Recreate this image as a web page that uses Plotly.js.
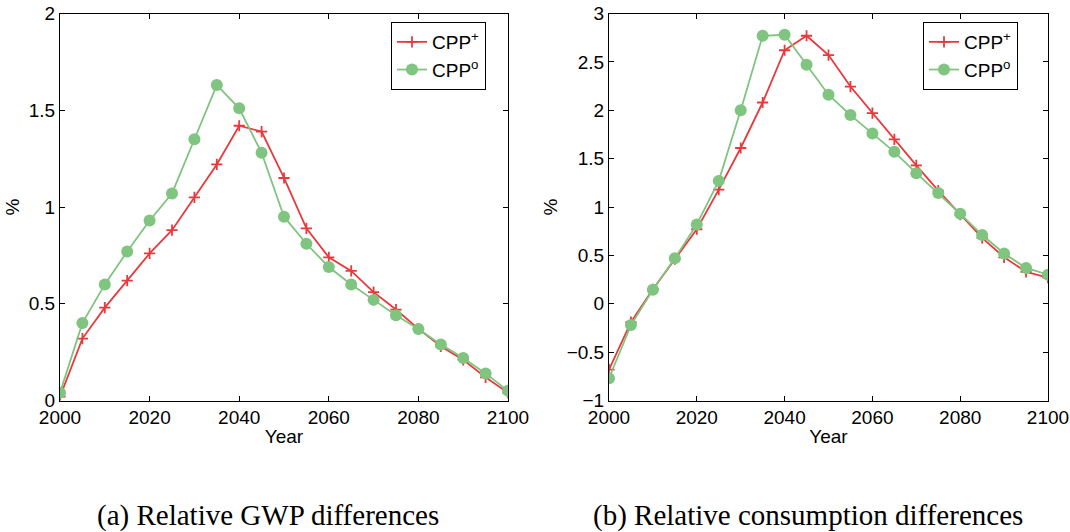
<!DOCTYPE html>
<html>
<head>
<meta charset="utf-8">
<script src="https://cdn.plot.ly/plotly-3.0.1.min.js"></script>
<style>
  html, body { margin: 0; padding: 0; background: #fff; }
  #chart { width: 1070px; height: 532px; }
</style>
</head>
<body>
<div id="chart"></div>
<script>
// Simulation years (5-year steps)
const years = [2000, 2005, 2010, 2015, 2020, 2025, 2030, 2035, 2040, 2045, 2050,
               2055, 2060, 2065, 2070, 2075, 2080, 2085, 2090, 2095, 2100];

// (a) Relative GWP differences, %
const gwpPlus = [0.02, 0.32, 0.48, 0.62, 0.76, 0.88, 1.05, 1.22, 1.42, 1.39, 1.15,
                 0.89, 0.74, 0.67, 0.56, 0.47, 0.37, 0.28, 0.21, 0.12, 0.04];
const gwpZero = [0.04, 0.40, 0.60, 0.77, 0.93, 1.07, 1.35, 1.63, 1.51, 1.28, 0.95,
                 0.81, 0.69, 0.60, 0.52, 0.44, 0.37, 0.29, 0.22, 0.14, 0.05];

// (b) Relative consumption differences, %
const consPlus = [-0.68, -0.19, 0.15, 0.46, 0.77, 1.18, 1.61, 2.08, 2.62, 2.77, 2.57,
                  2.245, 1.97, 1.70, 1.43, 1.17, 0.92, 0.68, 0.48, 0.33, 0.27];
const consZero = [-0.77, -0.22, 0.145, 0.47, 0.82, 1.27, 2.00, 2.77, 2.78, 2.47, 2.16,
                  1.95, 1.76, 1.57, 1.35, 1.145, 0.93, 0.71, 0.52, 0.37, 0.30];

const seriesNames = ['CPP<sup>+</sup>', 'CPP<sup>o</sup>'];
const captions = ['(a) Relative GWP differences', '(b) Relative consumption differences'];

const RED = '#e8393c';
const GREEN = '#7fc47f';
const SANS = 'Liberation Sans, Arial, sans-serif';
const SERIF = 'Liberation Serif, Times New Roman, serif';

function plusTrace(y, xa, ya, leg) {
  return {
    x: years, y: y, xaxis: xa, yaxis: ya, legend: leg,
    name: seriesNames[0], mode: 'lines+markers', type: 'scatter',
    line: { color: RED, width: 1.8 },
    marker: { symbol: 'cross-thin', size: 8, color: RED, line: { color: RED, width: 1.8 } }
  };
}
function zeroTrace(y, xa, ya, leg) {
  return {
    x: years, y: y, xaxis: xa, yaxis: ya, legend: leg,
    name: seriesNames[1], mode: 'lines+markers', type: 'scatter',
    line: { color: GREEN, width: 1.8 },
    marker: { symbol: 'circle', size: 12, color: GREEN }
  };
}

const data = [
  plusTrace(gwpPlus, 'x', 'y', 'legend'),
  zeroTrace(gwpZero, 'x', 'y', 'legend'),
  plusTrace(consPlus, 'x2', 'y2', 'legend2'),
  zeroTrace(consZero, 'x2', 'y2', 'legend2')
];

const W = 1070, H = 532;
const yDom = [(H - 400.5) / H, (H - 13.5) / H];

function xAxis(dom, anchor) {
  return {
    domain: dom, anchor: anchor, range: [2000, 2100],
    tickvals: [2000, 2020, 2040, 2060, 2080, 2100],
    ticks: 'inside', ticklen: 5, tickcolor: '#000', tickwidth: 1,
    showline: true, linecolor: '#000', linewidth: 1, mirror: 'ticks',
    showgrid: false, zeroline: false,
    tickfont: { family: SANS, size: 19, color: '#000' },
    title: { text: 'Year', font: { family: SANS, size: 19, color: '#000' }, standoff: 2 }
  };
}
function yAxis(dom, anchor, range, dtick) {
  return {
    domain: dom, anchor: anchor, range: range, dtick: dtick, tick0: 0,
    ticks: 'inside', ticklen: 5, tickcolor: '#000', tickwidth: 1,
    showline: true, linecolor: '#000', linewidth: 1, mirror: 'ticks',
    showgrid: false, zeroline: false,
    tickfont: { family: SANS, size: 19, color: '#000' },
    title: { text: '%', font: { family: SANS, size: 19, color: '#000' }, standoff: 4 }
  };
}

function legendAt(xRight) {
  return {
    x: xRight / W, xanchor: 'right', y: 1 - 22 / H, yanchor: 'top',
    bgcolor: '#fff', bordercolor: '#000', borderwidth: 1,
    font: { family: SANS, size: 19, color: '#000' },
    itemwidth: 30, tracegroupgap: 0
  };
}

const layout = {
  width: W, height: H,
  margin: { l: 0, r: 0, t: 0, b: 0 },
  paper_bgcolor: '#fff', plot_bgcolor: '#fff',
  showlegend: true,
  xaxis: xAxis([60 / W, 508 / W], 'y'),
  yaxis: yAxis(yDom, 'x', [0, 2], 0.5),
  xaxis2: xAxis([609 / W, 1048 / W], 'y2'),
  yaxis2: yAxis(yDom, 'x2', [-1, 3], 0.5),
  legend: legendAt(486),
  legend2: legendAt(1018),
  annotations: [
    { text: captions[0], x: 268 / W, y: 1 - 515 / H, xref: 'paper', yref: 'paper',
      xanchor: 'center', yanchor: 'middle', showarrow: false,
      font: { family: SERIF, size: 29, color: '#000' } },
    { text: captions[1], x: 808 / W, y: 1 - 515 / H, xref: 'paper', yref: 'paper',
      xanchor: 'center', yanchor: 'middle', showarrow: false,
      font: { family: SERIF, size: 29, color: '#000' } }
  ]
};

Plotly.newPlot('chart', data, layout, { staticPlot: true, displayModeBar: false });
</script>
</body>
</html>
